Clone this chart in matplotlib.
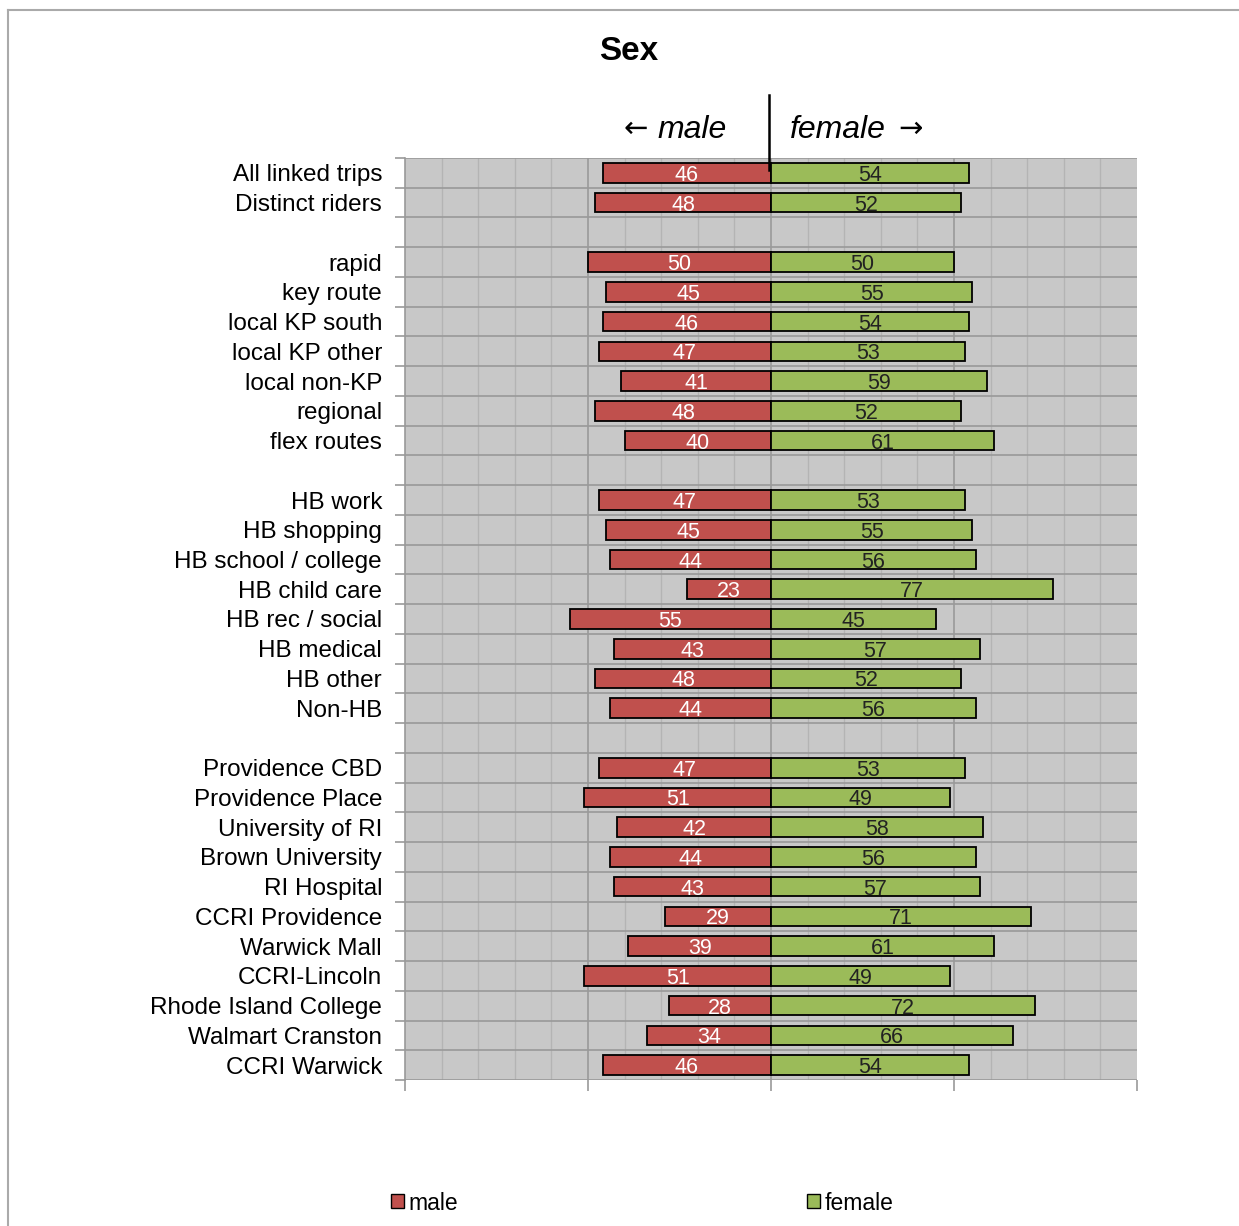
import numpy as np
import matplotlib.pyplot as plt
from matplotlib.patches import Patch
from matplotlib.lines import Line2D

# Row labels, top to bottom ('' = spacer row)
labels = ['All linked trips', 'Distinct riders', '',
          'rapid', 'key route', 'local KP south', 'local KP other', 'local non-KP',
          'regional', 'flex routes', '',
          'HB work', 'HB shopping', 'HB school / college', 'HB child care',
          'HB rec / social', 'HB medical', 'HB other', 'Non-HB', '',
          'Providence CBD', 'Providence Place', 'University of RI', 'Brown University',
          'RI Hospital', 'CCRI Providence', 'Warwick Mall', 'CCRI-Lincoln',
          'Rhode Island College', 'Walmart Cranston', 'CCRI Warwick']
male = [46, 48, None,
        50, 45, 46, 47, 41, 48, 40, None,
        47, 45, 44, 23, 55, 43, 48, 44, None,
        47, 51, 42, 44, 43, 29, 39, 51, 28, 34, 46]
female = [54, 52, None,
          50, 55, 54, 53, 59, 52, 61, None,
          53, 55, 56, 77, 45, 57, 52, 56, None,
          53, 49, 58, 56, 57, 71, 61, 49, 72, 66, 54]

red = '#C0504D'
green = '#9BBB59'
plt.rcParams['font.family'] = ['Liberation Sans', 'DejaVu Sans']

fig = plt.figure(figsize=(12.39, 12.26), dpi=100)
ax = fig.add_axes([405/1239, 1 - 1080/1226, 732/1239, 922/1226])
ax.set_facecolor('#C8C8C8')

n = len(labels)
y = np.arange(n)
for i in range(n):
    if male[i] is None:
        continue
    ax.barh(i, -male[i], height=0.66, color=red, edgecolor='black', linewidth=1.3, zorder=3)
    ax.barh(i, female[i], height=0.66, color=green, edgecolor='black', linewidth=1.3, zorder=3)
    ax.text(-male[i] / 2, i, str(male[i]), ha='center', va='center_baseline',
            color='white', fontsize=15.5, zorder=4)
    ax.text(female[i] / 2, i, str(female[i]), ha='center', va='center_baseline',
            color='#222222', fontsize=15.5, zorder=4)

ax.set_xlim(-100, 100)
ax.set_ylim(n - 0.5, -0.5)

# grid: vertical minor every 10, major every 50; horizontal at row boundaries
for xv in range(-90, 100, 10):
    lw, c = (1.2, '#9A9A9A') if xv % 50 == 0 else (1.0, '#B4B4B4')
    ax.axvline(xv, color=c, linewidth=lw, zorder=1)
for yb in np.arange(-0.5, n, 1.0):
    ax.axhline(yb, color='#999999', linewidth=1.2, zorder=1)

ax.set_yticks(y)
ax.set_yticklabels(labels, fontsize=17.5)
ax.set_yticks(np.arange(-0.5, n, 1.0), minor=True)
ax.tick_params(axis='y', which='major', length=0, pad=16.5)
ax.tick_params(axis='y', which='minor', length=7, color='#999999', width=1.2)
ax.set_xticks([-100, -50, 0, 50, 100])
ax.set_xticklabels([])
ax.tick_params(axis='x', length=8, color='#999999', width=1.2)
for s in ['top', 'right', 'bottom']:
    ax.spines[s].set_visible(False)
ax.spines['left'].set_color('#999999')
ax.spines['left'].set_linewidth(1.2)

fig.text(629/1239, 1 - 52/1226, 'Sex', ha='center', va='center',
         fontsize=24, fontweight='bold')
fig.text(727/1239, 1 - 130/1226, 'male', ha='right', va='center',
         fontsize=23, style='italic')
fig.text(636/1239, 1 - 129/1226, '\u2190', ha='center', va='center',
         fontsize=21, family='DejaVu Sans')
fig.text(790/1239, 1 - 130/1226, 'female', ha='left', va='center',
         fontsize=23, style='italic')
fig.text(911/1239, 1 - 129/1226, '\u2192', ha='center', va='center',
         fontsize=21, family='DejaVu Sans')
fig.add_artist(Line2D([769/1239, 769/1239], [1 - 95/1226, 1 - 170/1226],
                      color='black', linewidth=1.8))

# legend
fig.legend(handles=[Patch(facecolor=red, edgecolor='black')], labels=['male'],
           loc='center left', bbox_to_anchor=(391/1239, 1 - 1203/1226),
           frameon=False, fontsize=16.5, handlelength=0.55, handleheight=0.55,
           handletextpad=0.2, borderaxespad=0, borderpad=0)
fig.legend(handles=[Patch(facecolor=green, edgecolor='black')], labels=['female'],
           loc='center left', bbox_to_anchor=(807/1239, 1 - 1203/1226),
           frameon=False, fontsize=16.5, handlelength=0.55, handleheight=0.55,
           handletextpad=0.2, borderaxespad=0, borderpad=0)

# outer chart border
fig.add_artist(Line2D([8/1239, 8/1239], [0, 1 - 10/1226], color='#AAAAAA', linewidth=1.5))
fig.add_artist(Line2D([8/1239, 1], [1 - 10/1226, 1 - 10/1226], color='#AAAAAA', linewidth=1.5))

fig.savefig('out.png', dpi=100)
